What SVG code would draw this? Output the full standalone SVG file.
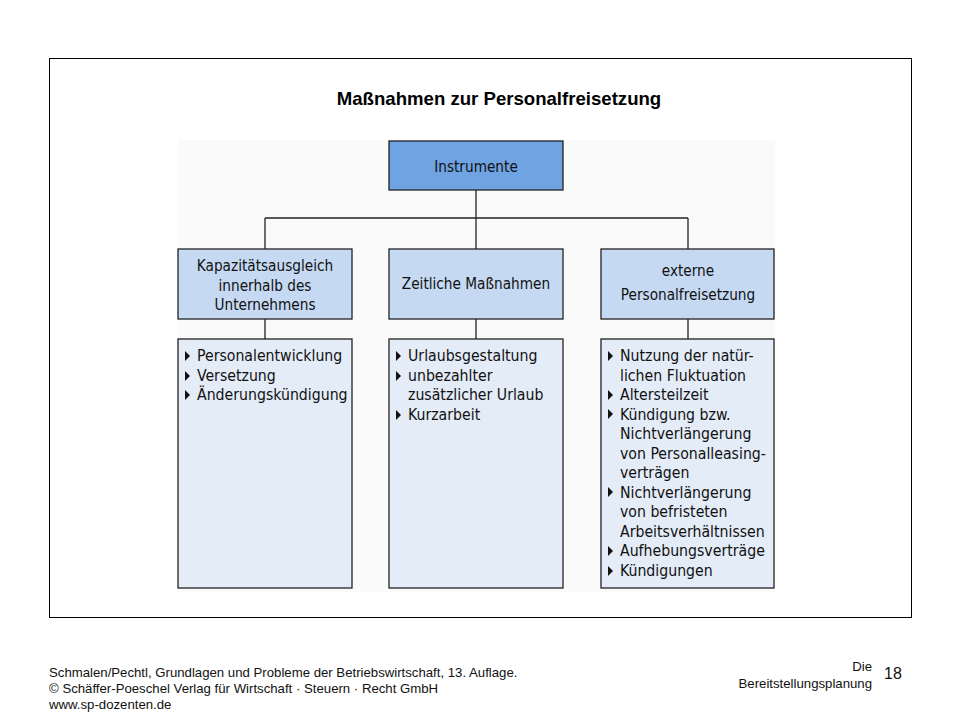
<svg xmlns="http://www.w3.org/2000/svg" width="960" height="720" viewBox="0 0 960 720">
<style>
.frame{fill:#fff;stroke:#000;stroke-width:1}
.panel{fill:#fafafa}
.top{fill:#6fa3e2;stroke:#222;stroke-width:1.3}
.mid{fill:#c6d9f2;stroke:#222;stroke-width:1.3}
.low{fill:#e4ecf8;stroke:#222;stroke-width:1.3}
.t{font-family:"DejaVu Sans Condensed","DejaVu Sans",sans-serif;font-size:15.7px;fill:#111}
.h{font-size:15.2px}
.c{text-anchor:middle}
.title{font-family:"Liberation Sans",Arial,sans-serif;font-size:18.6px;font-weight:bold;text-anchor:middle}
.f{font-family:"Liberation Sans",Arial,sans-serif;font-size:13.2px;fill:#111}
.r{text-anchor:end}
.con{stroke:#222;stroke-width:1.3;fill:none}
.b{fill:#111}
</style>
<defs>
<path id="bul" d="M0,-5 L5,0 L0,5 Z"/>
</defs>
<rect width="960" height="720" fill="#fff"/>
<rect class="frame" x="49.5" y="58.5" width="862" height="559"/>
<text class="title" x="499" y="105">Maßnahmen zur Personalfreisetzung</text>
<rect class="panel" x="178" y="140" width="597" height="452"/>
<g id="connectors">
<line class="con" x1="476" y1="190" x2="476" y2="249"/>
<line class="con" x1="265" y1="218" x2="688" y2="218"/>
<line class="con" x1="265" y1="218" x2="265" y2="249"/>
<line class="con" x1="688" y1="218" x2="688" y2="249"/>
<line class="con" x1="265" y1="319" x2="265" y2="339"/>
<line class="con" x1="476" y1="319" x2="476" y2="339"/>
<line class="con" x1="688" y1="319" x2="688" y2="339"/>
</g>
<g id="instrumente">
<rect class="top" x="389" y="141" width="174" height="49"/>
<text class="t h c" x="476" y="172">Instrumente</text>
</g>
<g id="kapazitaet">
<rect class="mid" x="178" y="249" width="174" height="70"/>
<text class="t h c" x="265" y="271">Kapazitätsausgleich</text>
<text class="t h c" x="265" y="291">innerhalb des</text>
<text class="t h c" x="265" y="310">Unternehmens</text>
</g>
<g id="zeitlich">
<rect class="mid" x="389" y="249" width="174" height="70"/>
<text class="t h c" x="476" y="289">Zeitliche Maßnahmen</text>
</g>
<g id="extern">
<rect class="mid" x="601" y="249" width="173" height="70"/>
<text class="t h c" x="688" y="276">externe</text>
<text class="t h c" x="688" y="300">Personalfreisetzung</text>
</g>
<g id="liste1">
<rect class="low" x="178" y="339" width="174" height="249"/>
<use href="#bul" class="b" x="185" y="356"/>
<use href="#bul" class="b" x="185" y="376"/>
<use href="#bul" class="b" x="185" y="395"/>
<text class="t" x="197" y="361">Personalentwicklung</text>
<text class="t" x="197" y="381">Versetzung</text>
<text class="t" x="197" y="400">Änderungskündigung</text>
</g>
<g id="liste2">
<rect class="low" x="389" y="339" width="174" height="249"/>
<use href="#bul" class="b" x="396" y="356"/>
<use href="#bul" class="b" x="396" y="376"/>
<use href="#bul" class="b" x="396" y="415"/>
<text class="t" x="408" y="361">Urlaubsgestaltung</text>
<text class="t" x="408" y="381">unbezahlter</text>
<text class="t" x="408" y="400">zusätzlicher Urlaub</text>
<text class="t" x="408" y="420">Kurzarbeit</text>
</g>
<g id="liste3">
<rect class="low" x="601" y="339" width="173" height="249"/>
<use href="#bul" class="b" x="608" y="356"/>
<use href="#bul" class="b" x="608" y="395"/>
<use href="#bul" class="b" x="608" y="414"/>
<use href="#bul" class="b" x="608" y="492"/>
<use href="#bul" class="b" x="608" y="551"/>
<use href="#bul" class="b" x="608" y="571"/>
<text class="t" x="620" y="361">Nutzung der natür-</text>
<text class="t" x="620" y="381">lichen Fluktuation</text>
<text class="t" x="620" y="400">Altersteilzeit</text>
<text class="t" x="620" y="420">Kündigung bzw.</text>
<text class="t" x="620" y="439">Nichtverlängerung</text>
<text class="t" x="620" y="459">von Personalleasing-</text>
<text class="t" x="620" y="478">verträgen</text>
<text class="t" x="620" y="498">Nichtverlängerung</text>
<text class="t" x="620" y="517">von befristeten</text>
<text class="t" x="620" y="537">Arbeitsverhältnissen</text>
<text class="t" x="620" y="556">Aufhebungsverträge</text>
<text class="t" x="620" y="576">Kündigungen</text>
</g>
<g id="footer">
<text class="f" x="49" y="677">Schmalen/Pechtl, Grundlagen und Probleme der Betriebswirtschaft, 13. Auflage.</text>
<text class="f" x="49" y="693">© Schäffer-Poeschel Verlag für Wirtschaft · Steuern · Recht GmbH</text>
<text class="f" x="49" y="709">www.sp-dozenten.de</text>
<text class="f r" x="872" y="671">Die</text>
<text class="f r" x="872" y="688">Bereitstellungsplanung</text>
<text class="f" x="884" y="679" style="font-size:16px">18</text>
</g>
</svg>
